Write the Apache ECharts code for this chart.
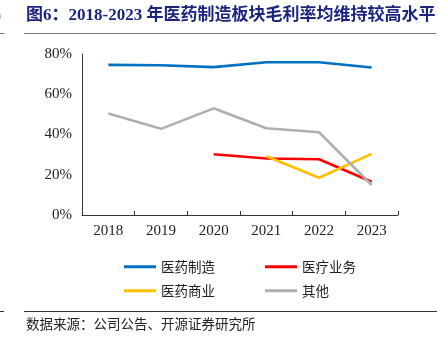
<!DOCTYPE html>
<html>
<head>
<meta charset="utf-8">
<script src="https://cdn.jsdelivr.net/npm/echarts@6/dist/echarts.min.js"></script>
<style>
  html, body { margin: 0; padding: 0; background: #fff; }
  #chart { width: 439px; height: 348px; }
</style>
</head>
<body>
<div id="chart"></div>
<script>
// Gross margin by segment, 2018-2023 (%)
const years = ['2018', '2019', '2020', '2021', '2022', '2023'];
const manufacturing = [74.6, 74.4, 73.5, 75.9, 75.9, 73.3];
const medicalServices = [null, null, 30.2, 28.1, 27.7, 16.5];
const commerce = [null, null, null, 29.2, 18.5, 30.4];
const other = [50.4, 42.8, 53.0, 43.1, 41.1, 14.9];
const yTicks = [0, 20, 40, 60, 80];

const seriesNames = ['医药制造', '医疗业务', '医药商业', '其他'];
const seriesColors = ['#0070C0', '#FF0000', '#FFC000', '#AFAFAF'];
const seriesData = [manufacturing, medicalServices, commerce, other];

const cjk = '"Noto Sans CJK SC", sans-serif';
const serif = '"Liberation Serif", "Times New Roman", serif';

const chart = echarts.init(document.getElementById('chart'));

const legendText = { fontFamily: cjk, fontSize: 13.5, color: '#222' };
const legendBase = {
  icon: 'rect', left: 119,
  itemWidth: 32, itemHeight: 3, itemGap: 50,
  textStyle: legendText
};

chart.setOption({
  animation: false,
  grid: { left: 82, right: 41, top: 54, bottom: 133 },
  xAxis: {
    type: 'category',
    data: years,
    boundaryGap: true,
    axisLine: { lineStyle: { color: '#333', width: 1 } },
    axisTick: { show: true, inside: true, length: 4, lineStyle: { color: '#333' } },
    axisLabel: { fontFamily: serif, fontSize: 15, color: '#222', margin: 9 }
  },
  yAxis: {
    type: 'value',
    min: yTicks[0],
    max: yTicks[yTicks.length - 1],
    interval: 20,
    splitLine: { show: false },
    axisLine: { show: true, lineStyle: { color: '#333', width: 1 } },
    axisTick: { show: false },
    axisLabel: { fontFamily: serif, fontSize: 15, color: '#222', margin: 10, formatter: '{value}%' }
  },
  legend: [
    Object.assign({ data: seriesNames.slice(0, 2), top: 255 }, legendBase),
    Object.assign({ data: seriesNames.slice(2, 4), top: 279 }, legendBase)
  ],
  series: seriesNames.map((name, i) => ({
    name: name,
    type: 'line',
    data: seriesData[i],
    symbol: 'none',
    connectNulls: false,
    color: seriesColors[i],
    lineStyle: { color: seriesColors[i], width: 2.6 }
  })),
  graphic: [
    {
      type: 'text', left: 26, top: 7,
      style: {
        text: '图6：2018-2023 年医药制造板块毛利率均维持较高水平',
        fontFamily: '"Liberation Serif", "Noto Sans CJK SC", serif',
        fontWeight: 'bold', fontSize: 17, fill: '#1B2580'
      }
    },
    {
      type: 'text', left: -5, top: 8,
      style: { text: '）', fontFamily: cjk, fontWeight: 'bold', fontSize: 16, fill: '#1B2580' }
    },
    { type: 'line', shape: { x1: 24, y1: 33.5, x2: 436, y2: 33.5 }, style: { stroke: '#777', lineWidth: 1 } },
    { type: 'line', shape: { x1: 0, y1: 33.5, x2: 4, y2: 33.5 }, style: { stroke: '#777', lineWidth: 1 } },
    { type: 'line', shape: { x1: 24, y1: 311.5, x2: 437, y2: 311.5 }, style: { stroke: '#333', lineWidth: 1 } },
    { type: 'line', shape: { x1: 0, y1: 311.5, x2: 4, y2: 311.5 }, style: { stroke: '#333', lineWidth: 1 } },
    {
      type: 'text', left: 26, top: 317,
      style: { text: '数据来源：公司公告、开源证券研究所', fontFamily: cjk, fontSize: 13.5, fill: '#222' }
    }
  ]
});
</script>
</body>
</html>
